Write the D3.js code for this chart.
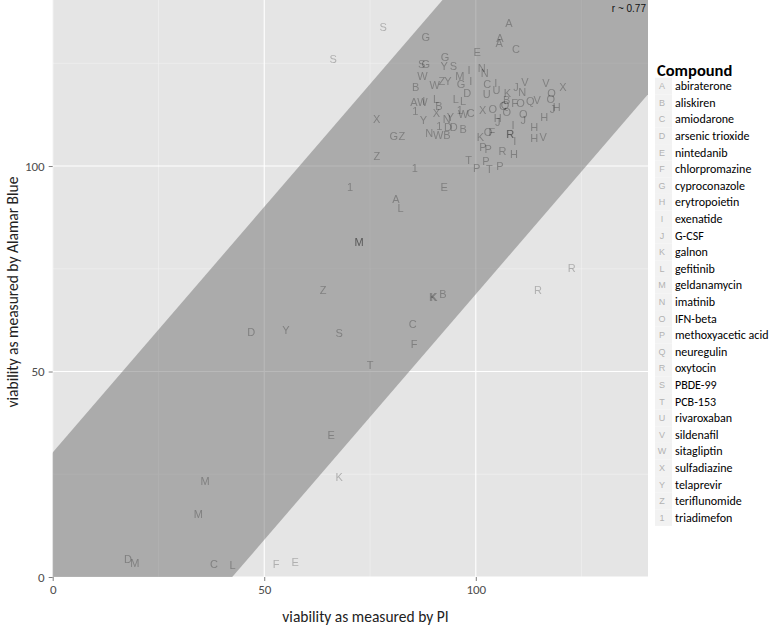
<!DOCTYPE html>
<html><head><meta charset="utf-8">
<script src="https://cdn.jsdelivr.net/npm/d3@7"></script>
<style>
body{margin:0;background:#fff;}
svg text{font-family:Carlito,Calibri,Lato,"Open Sans",sans-serif;}
text.pt{mix-blend-mode:multiply;}
</style></head>
<body><svg id="c" width="777" height="626"></svg>
<script>
const codes = ["A","B","C","D","E","F","G","H","I","J","K","L","M","N","O","P","Q","R","S","T","U","V","W","X","Y","Z","1"];
const compounds = ["abiraterone","aliskiren","amiodarone","arsenic trioxide","nintedanib","chlorpromazine","cyproconazole","erytropoietin","exenatide","G-CSF","galnon","gefitinib","geldanamycin","imatinib","IFN-beta","methoxyacetic acid","neuregulin","oxytocin","PBDE-99","PCB-153","rivaroxaban","sildenafil","sitagliptin","sulfadiazine","telaprevir","teriflunomide","triadimefon"];
// viability measured by PI (x) per compound
const viabilityPI = [
  [107.8,105.7,105.5,85.4,81.1],
  [85.8,91.3,93.2,97.0,92.2,107.3],
  [109.5,102.7,98.8,85.1,38.1,106.4],
  [98.0,93.4,94.8,46.9,17.8],
  [100.3,92.5,65.8,57.3],
  [103.8,109.2,85.4,52.8],
  [88.2,88.2,92.7,96.5,80.6],
  [119.1,116.2,113.8,113.8,109.0,105.2],
  [98.4,98.8,104.7,108.8,109.2,87.7],
  [109.5,118.1,111.2,105.2],
  [107.5,101.1,90.1,89.8,67.7],
  [90.6,95.3,97.0,82.2,42.5],
  [96.2,72.4,72.4,36.0,34.4,19.4],
  [101.4,102.1,111.0,93.1,89.0],
  [117.9,117.7,110.6,104.0,107.3,102.9,111.2],
  [101.7,102.9,102.4,100.2,105.7],
  [112.9,106.9],
  [108.1,108.2,106.3,122.7,114.7],
  [78.1,66.3,87.2,94.7,67.7],
  [98.3,103.2,75.0],
  [102.6,104.9],
  [111.6,116.6,114.5,115.9],
  [87.4,90.3,87.4,97.0,91.1],
  [120.6,101.6,90.7,76.6],
  [92.5,93.4,87.6,94.0,55.1],
  [92.0,82.5,76.6,63.9],
  [85.7,91.4,96.2,85.6,70.3]
];
// viability measured by Alamar Blue (y) per compound
const viabilityAB = [
  [134.8,131.1,129.9,115.6,92.0],
  [119.3,114.7,107.5,109.0,68.9,116.1],
  [128.5,120.0,113.0,61.6,3.2,114.6],
  [117.7,109.6,109.6,59.6,4.4],
  [127.8,94.9,34.5,3.6],
  [108.3,115.3,56.7,3.2],
  [131.4,124.8,126.5,120.0,107.3],
  [114.4,112.0,109.6,106.9,102.8,111.6],
  [123.4,120.8,120.3,110.0,106.1,115.8],
  [119.3,113.9,111.2,110.7],
  [117.7,107.1,68.1,68.1,24.3],
  [116.2,116.2,115.9,89.7,2.9],
  [121.8,81.5,81.5,23.4,15.2,3.3],
  [123.8,122.7,118.1,111.4,108.1],
  [117.8,116.2,115.4,113.9,113.1,108.3,112.7],
  [104.7,104.1,101.2,99.4,100.0],
  [115.9,114.8],
  [107.7,107.7,103.6,75.2,69.8],
  [133.7,126.0,124.8,124.4,59.3],
  [101.5,99.3,51.5],
  [117.5,118.5],
  [120.5,120.1,116.1,107.1],
  [121.8,119.8,115.5,112.7,107.5],
  [119.1,113.7,112.8,111.4],
  [124.3,120.8,111.2,112.0,60.1],
  [120.8,107.2,102.5,69.8],
  [113.4,109.7,113.6,99.6,95.0]
];
const majorTicks = [0,50,100];
const minorTicks = [25,75,125];
const bandSlope = 1.195, bandUpper = 30.3, bandLower = -50.7;
const corrLabel = "r ~ 0.77";

const svg = d3.select("#c");
const L = 52.7, R = 648, T = 0, B = 577;
const x = d3.scaleLinear().domain([0,140.7]).range([L,R]);
const y = d3.scaleLinear().domain([0,140.4]).range([B,T]);

svg.append("defs").append("clipPath").attr("id","pc")
  .append("rect").attr("x",L).attr("y",T).attr("width",R-L).attr("height",B-T);

svg.append("rect").attr("x",L).attr("y",T).attr("width",R-L).attr("height",B-T).attr("fill","#E5E5E5");
const g = svg.append("g").attr("clip-path","url(#pc)").style("isolation","isolate");
g.selectAll(".mnx").data(minorTicks).join("line")
  .attr("x1",d=>x(d)).attr("x2",d=>x(d)).attr("y1",T).attr("y2",B).attr("stroke","#F2F2F2").attr("stroke-width",0.6);
g.selectAll(".mny").data(minorTicks).join("line")
  .attr("y1",d=>y(d)).attr("y2",d=>y(d)).attr("x1",L).attr("x2",R).attr("stroke","#F2F2F2").attr("stroke-width",0.6);
g.selectAll(".mjx").data(majorTicks).join("line")
  .attr("x1",d=>x(d)).attr("x2",d=>x(d)).attr("y1",T).attr("y2",B).attr("stroke","#fff").attr("stroke-width",1.1);
g.selectAll(".mjy").data(majorTicks).join("line")
  .attr("y1",d=>y(d)).attr("y2",d=>y(d)).attr("x1",L).attr("x2",R).attr("stroke","#fff").attr("stroke-width",1.1);

const xs = [-20, 160];
const poly = [
  [xs[0], bandSlope*xs[0]+bandUpper],[xs[1], bandSlope*xs[1]+bandUpper],
  [xs[1], bandSlope*xs[1]+bandLower],[xs[0], bandSlope*xs[0]+bandLower]
];
g.append("path").attr("d", d3.line().x(d=>x(d[0])).y(d=>y(d[1]))(poly)+"Z")
  .attr("fill","#646464").attr("fill-opacity",0.45);

const pts = [];
codes.forEach((c,i)=>viabilityPI[i].forEach((v,j)=>pts.push({c, px:v, ab:viabilityAB[i][j]})));
g.selectAll("text.pt").data(pts).join("text").attr("class","pt")
  .attr("x",d=>x(d.px)).attr("y",d=>y(d.ab)).attr("dy","0.36em")
  .attr("text-anchor","middle").style("font-family","'Liberation Sans',Arial,sans-serif")
  .attr("font-size",11).attr("fill","#b0b0b0").text(d=>d.c);

svg.append("text").attr("x",646).attr("y",12).attr("text-anchor","end")
  .style("font-family","'Liberation Sans',Arial,sans-serif").attr("font-size",10).attr("fill","#111").text(corrLabel);

// axes
const xa = svg.append("g").attr("transform",`translate(0,${B})`)
  .call(d3.axisBottom(x).tickValues(majorTicks).tickSize(4).tickPadding(4));
const ya = svg.append("g").attr("transform",`translate(${L},0)`)
  .call(d3.axisLeft(y).tickValues(majorTicks).tickSize(4).tickPadding(4));
[xa,ya].forEach(a=>{
  a.select(".domain").remove();
  a.selectAll("line").attr("stroke","#7f7f7f");
  a.selectAll("text").attr("font-size",13).attr("fill","#4d4d4d").style("font-family","Carlito,Calibri,Lato,sans-serif");
});
svg.append("text").attr("x",365.5).attr("y",622).attr("text-anchor","middle").attr("font-size",15.5).attr("fill","#222").text("viability as measured by PI");
svg.append("text").attr("transform","translate(18,292) rotate(-90)").attr("text-anchor","middle").attr("font-size",15.5).attr("fill","#222").text("viability as measured by Alamar Blue");

// legend
const lg = svg.append("g");
lg.append("text").attr("x",657).attr("y",76).attr("font-size",16.5).attr("font-weight","bold").attr("fill","#000").text("Compound");
const step = 16.6, y0 = 86;
lg.selectAll("rect.k").data(codes).join("rect").attr("class","k")
  .attr("x",655).attr("y",(d,i)=>y0+i*step-8.3).attr("width",17).attr("height",step).attr("fill","#F2F2F2");
lg.selectAll("text.kl").data(codes).join("text").attr("class","kl")
  .attr("x",662).attr("y",(d,i)=>y0+i*step).attr("dy","0.36em").attr("text-anchor","middle")
  .style("font-family","'Liberation Sans',Arial,sans-serif").attr("font-size",9).attr("fill","#b3b3b3").text(d=>d);
lg.selectAll("text.lab").data(compounds).join("text").attr("class","lab")
  .attr("x",675).attr("y",(d,i)=>y0+i*step).attr("dy","0.35em")
  .attr("font-size",12).attr("fill","#000").text(d=>d);
</script></body></html>
